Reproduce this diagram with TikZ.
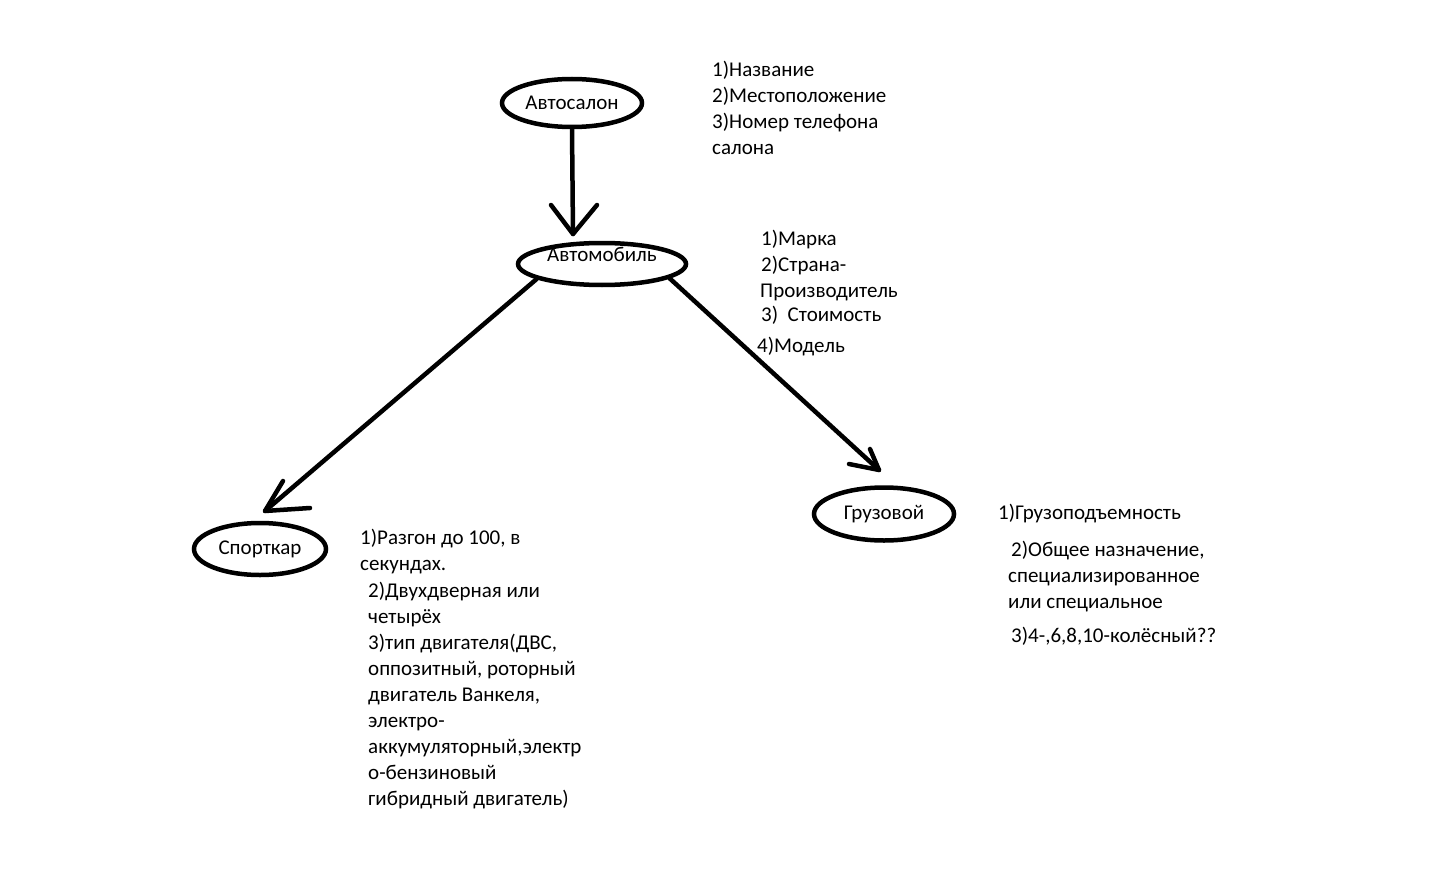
\documentclass[tikz,border=0pt]{standalone}
\usepackage{fontspec}
\setmainfont{Carlito}
\usetikzlibrary{shapes.geometric}
\begin{document}
\begin{tikzpicture}[x=1pt,y=-1pt,
  oval/.style={draw, ellipse, line width=4.5pt, inner sep=0pt,
    font=\fontsize{21}{25}\selectfont},
  attr/.style={anchor=base west, inner sep=0pt,
    font=\fontsize{21}{25}\selectfont},
  link/.style={line width=4.5pt, line cap=round, line join=round}]
\useasboundingbox (0,0) rectangle (1450,869);
\fill[white] (0,0) rectangle (1450,869);

% entities
\node[oval, minimum width=140pt, minimum height=48pt] (salon) at (572,103) {Автосалон};
\node[oval, minimum width=168pt, minimum height=42pt] (car) at (602,264)
  {\smash{\raisebox{3pt}{Автомобиль}}};
\node[oval, minimum width=132pt, minimum height=52pt] (sport) at (260,549) {Спорткар};
\node[oval, minimum width=140pt, minimum height=53pt] (truck) at (884,514) {Грузовой};

% arrow tips (hand-drawn, slightly asymmetric barbs)
\coordinate (tipA) at (573,234);
\coordinate (tipB) at (265,511);
\coordinate (tipC) at (879,470);

\draw[link] (salon.south) -- (tipA);
\draw[link] ([shift={(-22,-29)}]tipA) -- (tipA) -- ([shift={(24,-29)}]tipA);

\draw[link] (car.193) -- (tipB);
\draw[link] ([shift={(18,-30)}]tipB) -- (tipB) -- ([shift={(45,-3)}]tipB);

\draw[link] (car.-12) -- (tipC);
\draw[link] ([shift={(-9,-21)}]tipC) -- (tipC) -- ([shift={(-30,-6)}]tipC);

% attributes of the dealership
\node[attr] (sa1) at (712,77)  {1)Название};
\node[attr] (sa2) at (712,103) {2)Местоположение};
\node[attr] (sa3) at (712,129) {3)Номер телефона};
\node[attr] (sa4) at (712,155) {салона};

% attributes of the car
\node[attr] (ca1) at (761,245) {1)Марка};
\node[attr] (ca2) at (761,271) {2)Страна-};
\node[attr] (ca3) at (760,297) {Производитель};
\node[attr] (ca4) at (761,321) {3)\ \ Стоимость};
\node[attr] (ca5) at (757,352) {4)Модель};

% attributes of the sports car
\node[attr] (sp1)  at (360,544) {1)Разгон до 100, в};
\node[attr] (sp2)  at (360,570) {секундах.};
\node[attr] (sp3)  at (368,597) {2)Двухдверная или};
\node[attr] (sp4)  at (368,623) {четырёх};
\node[attr] (sp5)  at (368,649) {3)тип двигателя(ДВС,};
\node[attr] (sp6)  at (368,675) {оппозитный, роторный};
\node[attr] (sp7)  at (368,701) {двигатель Ванкеля,};
\node[attr] (sp8)  at (368,727) {электро-};
\node[attr] (sp9)  at (368,753) {аккумуляторный,электр};
\node[attr] (sp10) at (368,779) {о-бензиновый};
\node[attr] (sp11) at (368,805) {гибридный двигатель)};

% attributes of the truck
\node[attr] (tr1) at (998,519)  {1)Грузоподъемность};
\node[attr] (tr2) at (1011,556) {2)Общее назначение,};
\node[attr] (tr3) at (1008,582) {специализированное};
\node[attr] (tr4) at (1008,608) {или специальное};
\node[attr] (tr5) at (1011,642) {3)4-,6,8,10-колёсный??};
\end{tikzpicture}
\end{document}
